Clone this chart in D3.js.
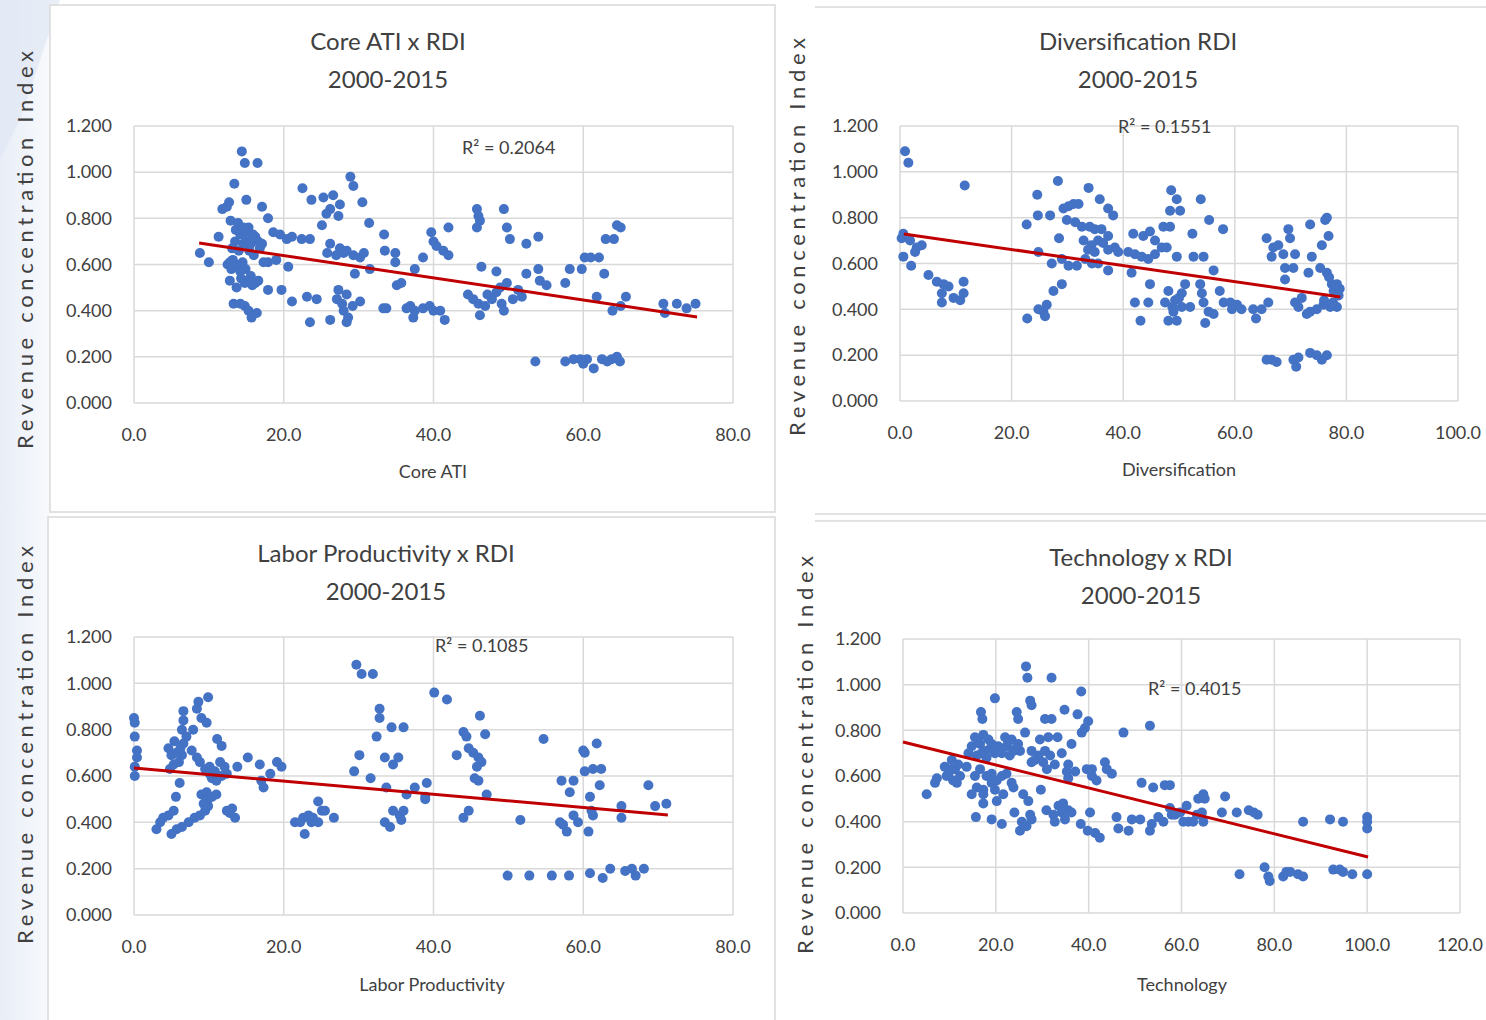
<!DOCTYPE html>
<meta charset="utf-8">
<script src="https://d3js.org/d3.v7.min.js"></script>
<style>
  body {margin:0; background:#fff;}
  svg {display:block; font-family:Lato, 'Open Sans', sans-serif;}
</style>
<svg id="chart" width="1486" height="1020"></svg>
<script>
// ---- data ----
const coreAti=[[14.4,1.09],[14.8,1.04],[16.5,1.04],[13.4,0.95],[15.0,0.88],[12.7,0.87],[12.4,0.85],[11.8,0.84],[17.1,0.85],[17.9,0.80],
 [12.9,0.79],[13.9,0.78],[14.6,0.76],[14.8,0.74],[14.2,0.73],[15.1,0.71],[16.2,0.72],[16.6,0.70],[17.1,0.69],[15.6,0.69],[14.6,0.69],[13.5,0.70],[15.4,0.66],[16.8,0.67],
 [13.6,0.75],[15.3,0.76],[15.9,0.73],[14.0,0.66],[16.0,0.64],[13.1,0.67],
 [11.3,0.72],[8.8,0.65],[10.0,0.61],[12.5,0.60],[13.2,0.62],[13.9,0.59],[14.5,0.61],[14.9,0.58],[13.0,0.58],[12.8,0.61],[14.2,0.57],[13.6,0.60],
 [12.8,0.53],[13.7,0.50],[14.8,0.52],[16.2,0.52],[16.6,0.53],[15.6,0.55],[15.1,0.53],[17.9,0.49],[19.7,0.49],[15.8,0.51],[14.3,0.54],
 [13.3,0.43],[14.8,0.42],[15.3,0.40],[15.7,0.37],[16.4,0.39],[14.2,0.43],
 [18.6,0.74],[19.5,0.73],[20.4,0.71],[21.1,0.72],[22.4,0.71],[23.5,0.71],[17.9,0.61],[19.0,0.62],[17.3,0.61],[20.6,0.59],[21.1,0.44],[23.5,0.35],
 [22.5,0.93],[23.7,0.88],[25.3,0.89],[26.6,0.90],[26.2,0.84],[27.5,0.86],[25.7,0.82],[27.3,0.81],[25.1,0.77],
 [28.9,0.98],[29.3,0.94],[30.5,0.87],[31.4,0.78],
 [26.2,0.69],[27.5,0.67],[28.4,0.66],[29.3,0.64],[30.2,0.63],[30.7,0.65],[25.8,0.65],[28.0,0.65],[27.0,0.64],[31.5,0.58],[29.5,0.56],
 [27.3,0.49],[28.4,0.47],[30.2,0.44],[27.1,0.45],[28.0,0.40],[28.6,0.37],[28.4,0.35],[29.2,0.42],[27.8,0.43],[23.1,0.46],[24.4,0.45],[26.2,0.36],
 [33.4,0.73],[33.5,0.66],[34.9,0.65],[34.9,0.61],[35.1,0.51],[35.7,0.52],
 [33.3,0.41],[33.7,0.41],[36.9,0.42],[36.4,0.41],[37.5,0.40],[37.3,0.37],[38.6,0.41],[39.5,0.42],[40.0,0.40],
 [38.6,0.63],[39.7,0.74],[40.0,0.70],[40.4,0.68],[37.5,0.58],[41.3,0.66],[42.0,0.64],[42.0,0.76],[40.9,0.40],[41.5,0.36],
 [45.8,0.84],[46.0,0.81],[46.2,0.79],[45.8,0.76],[49.4,0.84],[49.8,0.76],[50.2,0.71],[52.4,0.69],[54.0,0.72],
 [46.4,0.59],[48.4,0.57],[52.4,0.56],[54.0,0.58],[54.2,0.53],[55.1,0.51],[57.6,0.52],[58.2,0.58],
 [59.8,0.58],[60.2,0.63],[61.0,0.63],[62.1,0.63],[62.8,0.56],[63.0,0.71],[64.1,0.71],[64.5,0.77],[65.0,0.76],
 [44.6,0.47],[45.3,0.45],[46.0,0.43],[46.2,0.38],[46.9,0.42],[47.8,0.45],[48.4,0.48],[49.1,0.43],[49.4,0.40],[49.8,0.52],[50.6,0.45],[51.3,0.49],[51.8,0.46],[48.9,0.50],[47.2,0.47],
 [61.8,0.46],[63.9,0.40],[65.0,0.42],[65.7,0.46],[70.7,0.43],[70.9,0.39],[72.5,0.43],[73.8,0.41],[75.0,0.43],
 [53.6,0.18],[57.6,0.18],[58.7,0.19],[59.6,0.19],[60.5,0.19],[61.4,0.15],[62.5,0.19],[63.8,0.19],[64.5,0.20],[64.9,0.18],[60.0,0.17],[63.2,0.18]];

const diversification=[[0.9,1.09],[1.5,1.04],[11.6,0.94],[0.3,0.71],[1.8,0.70],[3.0,0.67],[3.9,0.68],[2.7,0.65],[0.6,0.73],[0.6,0.63],[2.0,0.59],
 [5.1,0.55],[6.6,0.52],[7.8,0.51],[8.7,0.50],[11.4,0.52],[7.5,0.47],[7.5,0.43],[9.6,0.45],[10.8,0.44],[11.4,0.47],
 [24.6,0.90],[28.3,0.96],[33.8,0.93],[35.8,0.88],[37.3,0.84],[38.2,0.81],[24.7,0.81],[26.9,0.81],[22.7,0.77],
 [29.3,0.84],[30.2,0.85],[31.1,0.86],[32.0,0.86],[29.9,0.79],[31.4,0.78],[32.6,0.76],[34.0,0.76],[34.9,0.75],[36.1,0.75],[37.3,0.72],[28.5,0.71],
 [32.9,0.70],[34.3,0.68],[35.5,0.70],[36.4,0.69],[34.9,0.65],[33.7,0.66],[37.3,0.66],[38.5,0.67],[24.8,0.65],
 [27.2,0.60],[29.0,0.62],[30.2,0.59],[31.7,0.59],[33.2,0.62],[34.4,0.60],[35.5,0.60],[37.3,0.57],
 [39.1,0.65],[40.9,0.65],[42.1,0.64],[43.3,0.63],[41.8,0.73],[43.6,0.72],[44.8,0.74],[45.7,0.70],[46.9,0.67],[47.8,0.67],[48.4,0.76],[44.5,0.62],[45.7,0.64],[41.5,0.56],[44.8,0.51],
 [29.0,0.51],[27.5,0.48],[26.3,0.42],[25.7,0.39],[24.8,0.40],[26.0,0.37],[22.8,0.36],[42.1,0.43],[44.5,0.43],[43.1,0.35],[49.6,0.63],
 [48.6,0.92],[49.6,0.88],[48.4,0.83],[50.2,0.83],[47.2,0.76],
 [47.5,0.43],[48.1,0.48],[49.3,0.44],[50.5,0.41],[49.0,0.39],[48.1,0.35],[49.6,0.35],[50.5,0.47],[48.8,0.41],[50.0,0.45],
 [53.9,0.88],[55.4,0.79],[57.9,0.75],[52.4,0.73],[52.6,0.63],[54.4,0.63],[56.2,0.57],
 [51.1,0.51],[53.8,0.51],[54.1,0.47],[57.3,0.48],[54.4,0.43],[55.3,0.39],[56.2,0.38],[54.7,0.34],[52.0,0.41],
 [58.0,0.43],[59.2,0.43],[60.4,0.42],[61.2,0.40],[63.3,0.40],[63.8,0.36],[64.8,0.40],[66.0,0.43],[59.5,0.40],
 [65.7,0.71],[66.9,0.67],[67.8,0.68],[66.6,0.63],[68.7,0.64],[70.8,0.64],[69.6,0.75],[69.9,0.71],[73.5,0.77],[73.8,0.63],[76.2,0.79],[76.5,0.80],[76.8,0.72],[75.6,0.68],[73.2,0.56],[69.0,0.58],[70.5,0.58],[69.0,0.53],
 [75.3,0.58],[76.5,0.56],[77.4,0.51],[78.3,0.51],[77.7,0.48],[78.6,0.46],[78.3,0.41],[77.1,0.41],[75.9,0.42],[74.7,0.40],[73.5,0.39],[72.9,0.38],[70.8,0.43],[71.4,0.41],[72.0,0.45],
 [76.0,0.44],[77.6,0.43],[78.8,0.49],[76.9,0.54],
 [65.7,0.18],[66.6,0.18],[67.5,0.17],[70.5,0.18],[71.0,0.15],[71.4,0.19],[73.5,0.21],[74.7,0.20],[75.6,0.18],[76.5,0.20]];

const laborProd=[[0.0,0.85],[0.1,0.83],[0.1,0.77],[0.4,0.71],[0.4,0.68],[0.1,0.64],[0.1,0.60],
 [3.0,0.37],[3.5,0.40],[3.9,0.42],[4.6,0.43],[5.3,0.45],[5.0,0.35],[5.7,0.37],[6.4,0.38],[7.3,0.40],[8.1,0.42],[8.8,0.43],[9.5,0.45],[9.9,0.47],
 [4.6,0.72],[5.0,0.69],[5.7,0.70],[6.4,0.69],[5.3,0.65],[6.0,0.66],[4.8,0.63],[6.6,0.74],[6.1,0.57],[5.6,0.51],[5.4,0.75],[6.2,0.72],
 [6.6,0.88],[6.6,0.84],[6.4,0.80],[7.0,0.77],[8.6,0.92],[8.4,0.89],[9.0,0.85],[9.7,0.83],[7.9,0.80],[9.9,0.94],
 [7.7,0.71],[8.4,0.68],[8.8,0.66],[9.5,0.63],[10.1,0.64],[10.8,0.62],[10.4,0.59],[11.0,0.58],[11.7,0.60],[12.1,0.64],[11.5,0.66],[12.4,0.61],[10.1,0.61],
 [11.1,0.76],[11.7,0.73],[9.0,0.52],[9.7,0.53],[10.4,0.51],[11.0,0.52],[9.3,0.48],[9.9,0.50],
 [12.4,0.45],[13.1,0.46],[13.5,0.42],[12.8,0.44],[13.8,0.64],[15.2,0.68],[16.8,0.65],[17.0,0.58],[17.3,0.55],[19.1,0.66],[19.7,0.64],[18.2,0.61],
 [21.5,0.40],[22.6,0.42],[23.3,0.43],[23.9,0.42],[24.6,0.49],[25.1,0.45],[25.5,0.45],[22.8,0.35],[22.2,0.40],[23.7,0.40],[24.6,0.40],[26.7,0.42],
 [29.7,1.08],[30.4,1.04],[31.9,1.04],[32.8,0.89],[32.8,0.85],[32.4,0.77],[34.4,0.81],[36.0,0.81],[30.1,0.69],[29.4,0.62],[31.6,0.59],
 [33.5,0.68],[34.6,0.65],[35.3,0.68],[33.7,0.55],[36.4,0.52],[37.5,0.55],[38.9,0.50],[39.1,0.57],
 [33.5,0.40],[34.2,0.38],[34.6,0.45],[35.5,0.43],[36.0,0.45],[35.7,0.41],
 [40.1,0.96],[41.8,0.93],[38.9,0.51],[46.2,0.86],[46.9,0.78],[44.0,0.79],[44.4,0.77],[43.1,0.69],[44.7,0.72],[45.3,0.70],[46.0,0.68],[46.4,0.66],[45.8,0.64],[46.0,0.58],[47.1,0.52],[45.5,0.59],
 [44.0,0.42],[44.7,0.45],[51.6,0.41],[54.7,0.76],[57.1,0.58],[58.7,0.58],[58.2,0.53],
 [56.9,0.40],[57.8,0.36],[58.7,0.43],[59.3,0.40],[60.7,0.36],[57.3,0.39],
 [60.0,0.71],[60.2,0.70],[61.8,0.74],[60.2,0.62],[61.3,0.63],[62.4,0.63],[62.2,0.56],[60.9,0.51],[61.1,0.45],[61.3,0.43],
 [65.1,0.47],[65.1,0.42],[68.7,0.56],[69.6,0.47],[71.1,0.48],
 [49.9,0.17],[52.8,0.17],[55.8,0.17],[58.1,0.17],[60.9,0.18],[62.6,0.16],[63.6,0.20],[65.6,0.19],[66.5,0.20],[67.0,0.17],[68.1,0.20]];

const technology=[[26.5,1.08],[26.8,1.03],[32.0,1.03],[19.8,0.94],[27.4,0.93],[27.7,0.91],[38.4,0.97],
 [16.8,0.88],[17.1,0.85],[24.5,0.88],[24.8,0.85],[30.6,0.85],[32.0,0.85],[34.8,0.89],[37.6,0.87],[39.9,0.84],[39.2,0.81],[38.5,0.79],
 [47.5,0.79],[53.2,0.82],[26.3,0.79],[29.5,0.76],[31.3,0.77],[33.3,0.77],[36.3,0.74],
 [15.5,0.77],[17.3,0.78],[18.4,0.76],[14.8,0.73],[16.6,0.74],[17.7,0.71],[19.1,0.74],[14.1,0.70],[15.9,0.69],[18.0,0.68],[19.8,0.70],
 [16.2,0.75],[18.8,0.72],[20.5,0.73],[16.9,0.70],
 [22.0,0.77],[23.4,0.76],[24.8,0.74],[22.3,0.73],[23.8,0.71],[25.2,0.71],[21.3,0.70],[23.0,0.69],[22.7,0.75],[24.3,0.72],
 [27.7,0.71],[29.2,0.69],[30.6,0.71],[28.4,0.67],[30.2,0.66],[31.7,0.69],[27.7,0.66],[34.2,0.70],[35.6,0.65],[35.3,0.62],[32.7,0.65],[31.0,0.63],
 [10.5,0.67],[9.0,0.64],[9.8,0.61],[11.2,0.63],[12.3,0.60],[10.8,0.58],[11.6,0.57],[7.3,0.59],[6.9,0.57],[5.1,0.52],[9.4,0.60],[10.2,0.63],[11.9,0.65],
 [13.7,0.64],[15.5,0.60],[16.6,0.63],[18.0,0.60],[15.9,0.55],[17.3,0.54],[19.1,0.61],[20.2,0.58],[21.3,0.60],[22.3,0.61],[23.4,0.57],[19.1,0.57],
 [14.8,0.52],[17.3,0.52],[17.3,0.48],[20.2,0.49],[21.6,0.52],[23.8,0.55],[19.8,0.54],[29.7,0.54],[25.9,0.52],[27.0,0.49],
 [35.6,0.59],[37.1,0.62],[39.6,0.63],[40.7,0.60],[41.7,0.58],[43.5,0.66],[45.0,0.61],[40.7,0.63],[43.9,0.63],
 [15.7,0.42],[19.1,0.41],[21.3,0.39],[24.0,0.44],[25.6,0.40],[25.2,0.36],[26.6,0.38],[27.7,0.41],[27.4,0.43],
 [30.9,0.45],[32.4,0.43],[33.5,0.47],[34.5,0.48],[35.6,0.45],[34.2,0.44],[32.7,0.40],[34.9,0.41],[36.3,0.44],
 [38.3,0.39],[39.8,0.36],[41.4,0.35],[42.4,0.33],[40.3,0.44],
 [46.0,0.42],[46.4,0.37],[48.6,0.36],[49.3,0.41],[51.1,0.41],[53.2,0.36],[53.6,0.39],[55.0,0.42],[56.1,0.40],[57.9,0.43],
 [51.4,0.57],[53.9,0.55],[56.4,0.56],[57.5,0.56],
 [57.5,0.46],[58.6,0.43],[60.4,0.40],[61.5,0.40],[62.5,0.40],[63.3,0.43],[64.4,0.44],[64.7,0.40],[61.1,0.47],[63.6,0.50],[64.7,0.52],[65.0,0.50],[59.7,0.44],
 [68.7,0.44],[69.4,0.51],[71.9,0.44],[74.5,0.45],[75.6,0.44],[76.4,0.43],
 [86.2,0.40],[92.0,0.41],[94.8,0.40],[100.0,0.42],[100.0,0.40],[100.0,0.37],
 [72.5,0.17],[77.9,0.20],[78.7,0.16],[79.0,0.14],[81.9,0.16],[82.6,0.18],[83.4,0.18],[85.1,0.17],[86.2,0.16],[92.7,0.19],[94.1,0.19],[94.8,0.18],[96.8,0.17],[100.0,0.17]];

// trend line end points (x, y)
const trendCore=[[8.7,0.693],[75.2,0.373]];
const trendDiv=[[0.7,0.729],[78.9,0.454]];
const trendLabor=[[0.0,0.635],[71.3,0.432]];
const trendTech=[[0.0,0.749],[100.2,0.245]];

const titles=[['Core ATI x RDI','2000-2015'],['Diversification RDI','2000-2015'],
              ['Labor Productivity x RDI','2000-2015'],['Technology x RDI','2000-2015']];
const xTitles=['Core ATI','Diversification','Labor Productivity','Technology'];
const r2Labels=['R² = 0.2064','R² = 0.1551','R² = 0.1085','R² = 0.4015'];
const xMax=[80,100,80,120];
const yTicks=[0,0.2,0.4,0.6,0.8,1.0,1.2];
const yTitle='Revenue concentration Index';

// ---- layout ----
const layout=[
  {x0:134,x1:733,y0:403,y1:126,cx:388,t1:50,t2:88,xl:433,xlY:478,ytX:33,ytY:250,r2x:462,r2y:154},
  {x0:900,x1:1458,y0:401,y1:126,cx:1138,t1:50,t2:88,xl:1179,xlY:476,ytX:805,ytY:237,r2x:1118,r2y:133},
  {x0:134,x1:733,y0:915,y1:637,cx:386,t1:562,t2:600,xl:432,xlY:991,ytX:33,ytY:745,r2x:435,r2y:652},
  {x0:903,x1:1460,y0:913,y1:639,cx:1141,t1:566,t2:604,xl:1182,xlY:991,ytX:813,ytY:755,r2x:1148,r2y:695}];
const points=[coreAti,diversification,laborProd,technology];
const trends=[trendCore,trendDiv,trendLabor,trendTech];

const svg=d3.select('#chart');
const txt='#404040', grid='#d9d9d9', dot='#4472c4', red='#c00000';

// pale slide background at the far left
const bg=svg.append('defs').append('linearGradient').attr('id','bgGrad')
  .attr('x1','0').attr('y1','0').attr('x2','1').attr('y2','0');
bg.append('stop').attr('offset','0%').attr('stop-color','#e9eef7');
bg.append('stop').attr('offset','100%').attr('stop-color','#f7f9fc');
svg.append('rect').attr('x',0).attr('y',0).attr('width',50).attr('height',1020).attr('fill','url(#bgGrad)');
svg.append('path').attr('d','M0,0 L60,0 L20,120 L0,160 Z').attr('fill','#dfe7f3').attr('opacity',0.7);

// panel frames
svg.append('rect').attr('x',50).attr('y',5).attr('width',725).attr('height',507)
   .attr('fill','#fff').attr('stroke',grid).attr('stroke-width',1.5);
svg.append('rect').attr('x',48).attr('y',517).attr('width',727).attr('height',510)
   .attr('fill','#fff').attr('stroke',grid).attr('stroke-width',1.5);
[[7],[514],[521]].forEach(function(d) {
  svg.append('line').attr('x1',815).attr('x2',1486).attr('y1',d[0]).attr('y2',d[0])
     .attr('stroke',grid).attr('stroke-width',1.5); });

layout.forEach(function(L,i) {
  const g=svg.append('g');
  const x=d3.scaleLinear().domain([0,xMax[i]]).range([L.x0,L.x1]);
  const y=d3.scaleLinear().domain([0,1.2]).range([L.y0,L.y1]);
  const xTicks=d3.range(0,xMax[i]+1,20);

  // gridlines
  g.selectAll('.hg').data(yTicks).join('line')
   .attr('x1',L.x0).attr('x2',L.x1).attr('y1',d=>y(d)).attr('y2',d=>y(d))
   .attr('stroke',grid).attr('stroke-width',1.5);
  g.selectAll('.vg').data(xTicks).join('line')
   .attr('y1',L.y0).attr('y2',L.y1).attr('x1',d=>x(d)).attr('x2',d=>x(d))
   .attr('stroke',grid).attr('stroke-width',1.5);

  // tick labels
  g.selectAll('.yl').data(yTicks).join('text')
   .attr('x',L.x0-22).attr('y',d=>y(d)).attr('dy','0.35em')
   .attr('text-anchor','end').attr('font-size',18).attr('fill',txt)
   .text(d=>d3.format('.3f')(d));
  g.selectAll('.xl').data(xTicks).join('text')
   .attr('x',d=>x(d)).attr('y',L.y0+38).attr('text-anchor','middle')
   .attr('font-size',18).attr('fill',txt).text(d=>d3.format('.1f')(d));

  // titles
  g.append('text').attr('x',L.cx).attr('y',L.t1).attr('text-anchor','middle')
   .attr('font-size',24).attr('fill',txt).text(titles[i][0]);
  g.append('text').attr('x',L.cx).attr('y',L.t2).attr('text-anchor','middle')
   .attr('font-size',24).attr('fill',txt).text(titles[i][1]);
  g.append('text').attr('x',L.xl).attr('y',L.xlY).attr('text-anchor','middle')
   .attr('font-size',18).attr('fill',txt).text(xTitles[i]);
  g.append('text').attr('transform','translate('+L.ytX+','+L.ytY+') rotate(-90)')
   .attr('text-anchor','middle').attr('font-size',22).attr('fill',txt)
   .attr('textLength',398).attr('lengthAdjust','spacing').text(yTitle);

  // points
  g.selectAll('circle').data(points[i]).join('circle')
   .attr('cx',d=>x(d[0])).attr('cy',d=>y(d[1])).attr('r',5).attr('fill',dot);

  // trend line
  g.append('path').datum(trends[i])
   .attr('d',d3.line().x(d=>x(d[0])).y(d=>y(d[1])))
   .attr('stroke',red).attr('stroke-width',3).attr('fill','none');

  g.append('text').attr('x',L.r2x).attr('y',L.r2y).attr('font-size',18)
   .attr('fill',txt).text(r2Labels[i]);
});
</script>
